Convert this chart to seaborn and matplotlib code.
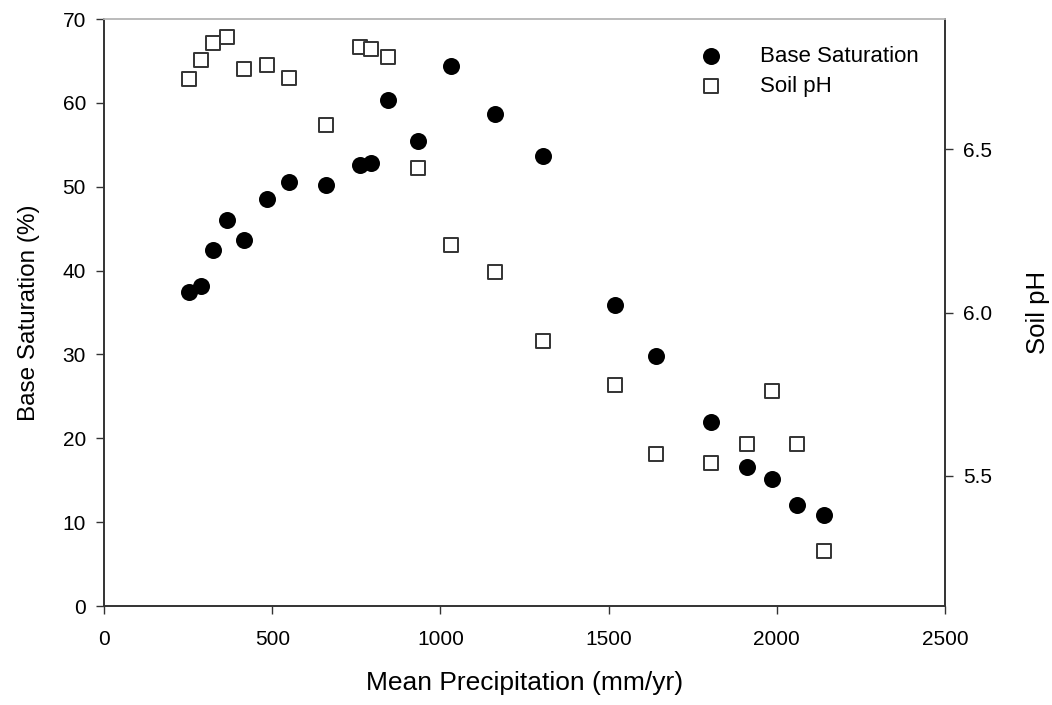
import pandas as pd
import seaborn as sns
import matplotlib.pyplot as plt

# Donnees
precip = [253, 287, 325, 366, 417, 485, 550, 661, 762, 794, 845, 934,
          1032, 1163, 1305, 1519, 1641, 1804, 1911, 1986, 2060, 2140]
base_sat = [37.4, 38.2, 42.5, 46.0, 43.7, 48.5, 50.6, 50.2, 52.6, 52.8, 60.3, 55.5,
            64.4, 58.7, 53.7, 35.9, 29.8, 21.9, 16.6, 15.1, 12.0, 10.9]
soil_ph = [6.717, 6.775, 6.827, 6.845, 6.747, 6.759, 6.720, 6.575, 6.815, 6.809, 6.784, 6.444,
           6.207, 6.125, 5.913, 5.778, 5.566, 5.539, 5.597, 5.759, 5.597, 5.269]

df = pd.DataFrame({'precip': precip, 'base': base_sat, 'ph': soil_ph})

sns.set_style("ticks")
plt.rcParams['font.family'] = ['Liberation Sans', 'DejaVu Sans']
plt.rcParams['text.color'] = 'black'
plt.rcParams['axes.labelcolor'] = 'black'
plt.rcParams['xtick.labelcolor'] = 'black'
plt.rcParams['ytick.labelcolor'] = 'black'

fig = plt.figure(figsize=(10.52, 7.05), dpi=100)
ax = fig.add_axes([0.0989, 0.1404, 0.7994, 0.8326])
ax2 = ax.twinx()

sns.scatterplot(data=df, x='precip', y='base', ax=ax, marker='o', s=150,
                color='black', edgecolor='black', linewidth=0, label='Base Saturation', legend=False)
sns.scatterplot(data=df, x='precip', y='ph', ax=ax2, marker='s', s=105,
                facecolor='white', edgecolor='#333333', linewidth=1.4, label='Soil pH', legend=False)

ax.set_xlim(0, 2500)
ax.set_ylim(0, 70)
ax2.set_ylim(5.1, 6.9)
ax.set_xticks([0, 500, 1000, 1500, 2000, 2500])
ax.set_yticks(range(0, 71, 10))
ax2.set_yticks([5.5, 6.0, 6.5])
ax2.set_yticklabels(['5.5', '6.0', '6.5'])

ax.set_xlabel('Mean Precipitation (mm/yr)', fontsize=19, labelpad=16)
ax.set_ylabel('Base Saturation (%)', fontsize=17.5, labelpad=16)
ax2.set_ylabel('Soil pH', fontsize=18.5, labelpad=24)

for a in (ax, ax2):
    a.tick_params(labelsize=15, length=6, width=1, color='#333333', direction='out', pad=7)
    for sp in a.spines.values():
        sp.set_color('#333333')
        sp.set_linewidth(1.2)
ax.tick_params(axis='x', pad=11)
ax.spines['top'].set_color('#bbbbbb')
ax2.spines['top'].set_color('#bbbbbb')

h1, l1 = ax.get_legend_handles_labels()
h2, l2 = ax2.get_legend_handles_labels()
ax2.legend(h1 + h2, l1 + l2, loc='upper right', frameon=False, fontsize=16,
           handletextpad=1.2, borderaxespad=0.8, labelspacing=0.4)

plt.savefig('out.png', dpi=100)
